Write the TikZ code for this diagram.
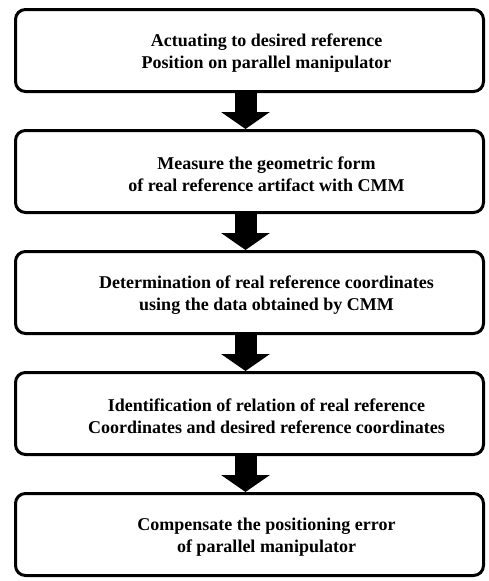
\documentclass[tikz,border=0pt]{standalone}
\usepackage{fontspec}
\setmainfont{Liberation Serif}
\usetikzlibrary{positioning,arrows.meta}

\begin{document}
\begin{tikzpicture}[x=1pt,y=1pt,node distance=36pt,
  stepbox/.style={draw,line width=3pt,rounded corners=10pt,minimum width=468pt,minimum height=82pt},
  steptext/.style={font=\bfseries\fontsize{18}{22}\selectfont,align=center,xshift=17pt,yshift=-3pt},
  blockarrow/.style={line width=22pt,-{Triangle[width=48pt,length=17pt]}}]
\useasboundingbox (0,0) rectangle (489,-581);
% boxes
\node[stepbox] (b1) at (249.5,-50.5) {};
\node[stepbox,below=of b1] (b2) {};
\node[stepbox,below=of b2] (b3) {};
\node[stepbox,below=of b3] (b4) {};
\node[stepbox,below=of b4] (b5) {};
% texts
\node[steptext] (t1) at (b1) {Actuating to desired reference\\Position on parallel manipulator};
\node[steptext] (t2) at (b2) {Measure the geometric form\\of real reference artifact with CMM};
\node[steptext] (t3) at (b3) {Determination of real reference coordinates\\using the data obtained by CMM};
\node[steptext] (t4) at (b4) {Identification of relation of real reference\\Coordinates and desired reference coordinates};
\node[steptext] (t5) at (b5) {Compensate the positioning error\\of parallel manipulator};
% arrows
\foreach \a/\b in {b1/b2,b2/b3,b3/b4,b4/b5} {
   \draw[blockarrow] ([xshift=-4pt]\a.south) -- ([xshift=-4pt]\b.north);
}
\end{tikzpicture}
\end{document}
